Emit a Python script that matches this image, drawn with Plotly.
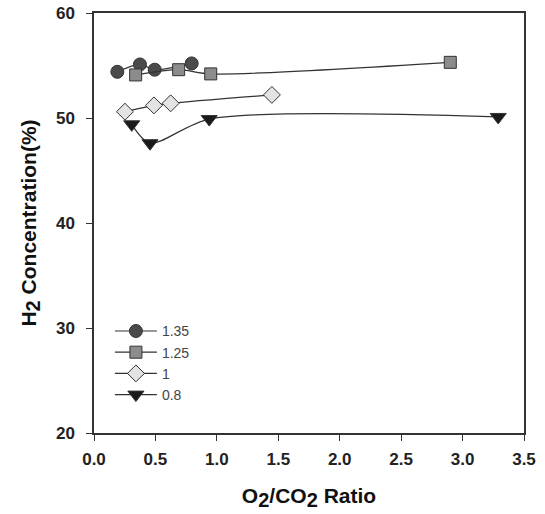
import plotly.graph_objects as go

x_135 = [0.19, 0.374, 0.494, 0.795]
y_135 = [54.4, 55.1, 54.6, 55.2]
x_125 = [0.339, 0.689, 0.95, 2.9]
y_125 = [54.1, 54.6, 54.2, 55.3]
x_100 = [0.252, 0.488, 0.624, 1.448]
y_100 = [50.6, 51.2, 51.4, 52.2]
x_080 = [0.307, 0.456, 0.938, 3.29]
y_080 = [49.4, 47.6, 49.9, 50.1]

series = [
    ("1.35", x_135, y_135, "circle", "#4a4a4a", 13),
    ("1.25", x_125, y_125, "square", "#8c8c8c", 12),
    ("1", x_100, y_100, "diamond", "#e3e3e3", 13),
    ("0.8", x_080, y_080, "triangle-down", "#1a1a1a", 14),
]

fig = go.Figure()
for name, xs, ys, sym, col, sz in series:
    fig.add_trace(go.Scatter(
        x=xs, y=ys, name=name, mode="lines+markers",
        line=dict(color="#333333", width=1.2, shape="spline", smoothing=0.8),
        marker=dict(symbol=sym, color=col, size=sz,
                    line=dict(color="#333333", width=1)),
    ))

font = "Liberation Sans, Arial, sans-serif"
sub2 = '<sub><span style="font-size:20px">2</span></sub>'
fig.update_layout(
    width=545, height=514,
    margin=dict(l=94, r=21, t=13, b=81),
    plot_bgcolor="white", paper_bgcolor="white",
    font=dict(family=font, color="#222222"),
    showlegend=True,
    legend=dict(x=0.037, y=0.28, xanchor="left", yanchor="top",
                bgcolor="rgba(0,0,0,0)", font=dict(size=14, color="#444444"),
                tracegroupgap=0, itemwidth=42),
)
fig.update_xaxes(
    range=[0, 3.5], tickvals=[0, 0.5, 1, 1.5, 2, 2.5, 3, 3.5],
    ticktext=["0.0", "0.5", "1.0", "1.5", "2.0", "2.5", "3.0", "3.5"],
    ticks="outside", ticklen=6, tickcolor="#333333", ticklabelstandoff=4,
    showline=True, linecolor="#333333", linewidth=1.5, mirror=True,
    showgrid=False, zeroline=False, automargin=False,
    tickfont=dict(size=17, family=font, color="#222222", weight="bold"),
    title=dict(text="O" + sub2 + "/CO" + sub2 + " Ratio",
               font=dict(size=21, family=font, color="#111111", weight="bold"),
               standoff=20),
)
fig.update_yaxes(
    range=[20, 60], tickvals=[20, 30, 40, 50, 60],
    ticks="outside", ticklen=6, tickcolor="#333333", ticklabelstandoff=8,
    showline=True, linecolor="#333333", linewidth=1.5, mirror=True,
    showgrid=False, zeroline=False, automargin=False,
    tickfont=dict(size=17, family=font, color="#222222", weight="bold"),
    title=dict(text="H" + sub2 + " Concentration(%)",
               font=dict(size=21, family=font, color="#111111", weight="bold"),
               standoff=14),
)
fig.write_html("out.html", config={"displayModeBar": False})

with open("out.html", "r", encoding="utf-8") as f:
    html = f.read()
html = html.replace("<head>", "<head><style>html,body{margin:0;padding:0;overflow:hidden;}</style>", 1)
with open("out.html", "w", encoding="utf-8") as f:
    f.write(html)
